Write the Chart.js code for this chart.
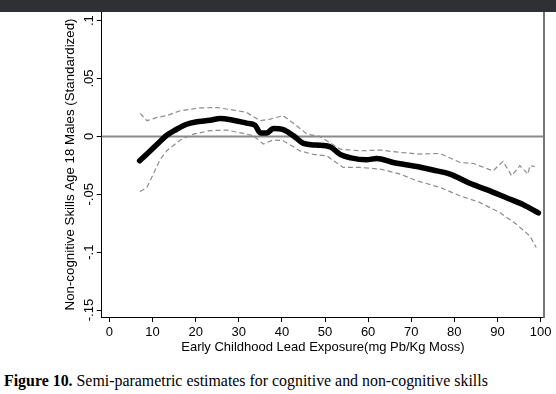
<!DOCTYPE html>
<html>
<head>
<meta charset="utf-8">
<script src="https://cdn.jsdelivr.net/npm/chart.js@4/dist/chart.umd.min.js"></script>
<style>
  body { margin: 0; background: #fff; width: 556px; height: 394px; overflow: hidden; position: relative; }
  #topbar { position: absolute; left: 0; top: 0; width: 556px; height: 12px; background: #2e3034; z-index: 2; }
  #wrap { position: absolute; left: 0; top: 0; width: 556px; height: 360px; }
  #caption { position: absolute; left: 4px; top: 372px; font-family: "Liberation Serif", "Times New Roman", serif; font-size: 15.9px; line-height: 18px; color: #000; white-space: nowrap; }
</style>
</head>
<body>
<div id="topbar"></div>
<div id="wrap"><canvas id="grafico"></canvas></div>
<div id="caption"><b>Figure 10.</b> Semi-parametric estimates for cognitive and non-cognitive skills</div>
<script>
// eixos
const xTicks = [0, 10, 20, 30, 40, 50, 60, 70, 80, 90, 100];
const yTicks = [-0.15, -0.1, -0.05, 0, 0.05, 0.1];
const yTickLabels = ["-.15", "-.1", "-.05", "0", ".05", ".1"];

// estimativa principal
const xMain = [7, 9, 11, 13.3, 15.5, 17.9, 20, 23.3, 25.7, 28.7, 31.8, 33.8, 35, 36.5, 38, 40.3, 42.7, 45, 48, 51.2, 53.5, 56, 59.6, 62, 65.8, 71.3, 75, 79, 83.6, 87.5, 92.1, 96, 99.5];
const yMain = [-0.021, -0.014, -0.007, 0.001, 0.006, 0.0105, 0.0125, 0.014, 0.0155, 0.014, 0.0115, 0.0095, 0.003, 0.003, 0.0068, 0.0058, 0.0005, -0.006, -0.0075, -0.009, -0.0155, -0.0185, -0.0202, -0.019, -0.0225, -0.026, -0.029, -0.0325, -0.0405, -0.046, -0.053, -0.059, -0.066];

// intervalo superior
const xUpper = [7.1, 8.7, 11, 13.3, 16.4, 21, 24.9, 28.7, 31.8, 34.9, 37.3, 40.3, 43.4, 45.8, 48.8, 53.5, 58.1, 62.8, 67.4, 72, 76.7, 81.3, 84.4, 89, 91.3, 93.3, 95.2, 97.1, 97.5, 98.7];
const yUpper = [0.0199, 0.0136, 0.0164, 0.018, 0.0222, 0.0246, 0.025, 0.0228, 0.0208, 0.0136, 0.015, 0.018, 0.0093, 0.002, 0.0, -0.011, -0.0124, -0.0118, -0.0138, -0.0152, -0.0147, -0.0225, -0.0234, -0.0297, -0.0216, -0.034, -0.0253, -0.0325, -0.0253, -0.026];

// intervalo inferior
const xLower = [7.1, 8.7, 11.8, 13.3, 16.4, 19.5, 23.3, 27.2, 31.1, 33.4, 35.7, 38, 40.3, 44.2, 47.3, 50.4, 54.2, 58.1, 62.8, 67.4, 71.3, 76.7, 81.3, 85.9, 90.5, 94.4, 97.5, 99];
const yLower = [-0.0476, -0.044, -0.0196, -0.0124, -0.0031, 0.002, 0.005, 0.0055, 0.0026, 0.0006, -0.0066, -0.003, -0.0037, -0.0125, -0.0155, -0.0167, -0.0268, -0.0268, -0.0282, -0.0325, -0.0383, -0.0441, -0.0513, -0.057, -0.0657, -0.0758, -0.0859, -0.096];

const pontos = (xs, ys) => xs.map((x, i) => ({ x: x, y: ys[i] }));

const fonte = "'Liberation Sans', Arial, sans-serif";

// linha zero, moldura e rótulos rotacionados do eixo Y
const estiloStata = {
  id: "estiloStata",
  beforeDatasetsDraw(chart) {
    const { ctx, chartArea, scales } = chart;
    const y0 = scales.y.getPixelForValue(0);
    ctx.save();
    ctx.strokeStyle = "#8a8a8a";
    ctx.lineWidth = 2;
    ctx.beginPath();
    ctx.moveTo(chartArea.left, y0);
    ctx.lineTo(chartArea.right, y0);
    ctx.stroke();
    ctx.restore();
  },
  afterDraw(chart) {
    const { ctx, chartArea, scales } = chart;
    ctx.save();
    ctx.strokeStyle = "#777";
    ctx.lineWidth = 2;
    ctx.beginPath();
    ctx.moveTo(chartArea.right, chartArea.top);
    ctx.lineTo(chartArea.right, chartArea.bottom + 1);
    ctx.stroke();

    ctx.fillStyle = "#000";
    ctx.font = "13px " + fonte;
    ctx.textAlign = "center";
    ctx.textBaseline = "middle";
    yTicks.forEach((v, i) => {
      const py = scales.y.getPixelForValue(v);
      ctx.save();
      ctx.translate(89, py);
      ctx.rotate(-Math.PI / 2);
      ctx.fillText(yTickLabels[i], 0, 0);
      ctx.restore();
    });
    ctx.restore();
  },
};

const ctx = document.getElementById("grafico").getContext("2d");
const myChart = new Chart(ctx, {
  type: "line",
  data: {
    datasets: [
      {
        label: "superior",
        data: pontos(xUpper, yUpper),
        borderColor: "#8c8c8c",
        borderWidth: 1.2,
        borderDash: [5, 3],
        pointRadius: 0,
        tension: 0,
      },
      {
        label: "inferior",
        data: pontos(xLower, yLower),
        borderColor: "#8c8c8c",
        borderWidth: 1.2,
        borderDash: [5, 3],
        pointRadius: 0,
        tension: 0,
      },
      {
        label: "estimativa",
        data: pontos(xMain, yMain),
        borderColor: "#000",
        borderWidth: 5.5,
        borderCapStyle: "round",
        borderJoinStyle: "round",
        pointRadius: 0,
        cubicInterpolationMode: "monotone",
      },
    ],
  },
  options: {
    responsive: true,
    maintainAspectRatio: false,
    animation: false,
    layout: { padding: { top: 12, right: 12, left: 0, bottom: 0 } },
    plugins: {
      legend: { display: false },
      tooltip: { enabled: false },
    },
    scales: {
      x: {
        type: "linear",
        min: -1.8,
        max: 100.8,
        afterBuildTicks: (scale) => {
          scale.ticks = xTicks.map((v) => ({ value: v }));
        },
        afterFit: (scale) => {
          scale.height = 43;
        },
        grid: { drawOnChartArea: false, drawTicks: true, tickLength: 5, tickColor: "#000" },
        border: { color: "#000", width: 1 },
        ticks: {
          color: "#000",
          padding: 3,
          maxRotation: 0,
          font: { family: fonte, size: 13 },
        },
        title: {
          display: true,
          text: "Early Childhood Lead Exposure(mg Pb/Kg Moss)",
          color: "#000",
          padding: { top: 0, bottom: 5 },
          font: { family: fonte, size: 13 },
        },
      },
      y: {
        type: "linear",
        min: -0.156,
        max: 0.1075,
        afterBuildTicks: (scale) => {
          scale.ticks = yTicks.map((v) => ({ value: v }));
        },
        afterFit: (scale) => {
          scale.width = 101.7;
        },
        grid: { drawOnChartArea: false, drawTicks: true, tickLength: 5, tickColor: "#000" },
        border: { color: "#000", width: 1 },
        ticks: { display: false },
        title: {
          display: true,
          text: "Non-cognitive Skills Age 18 Males (Standardized)",
          color: "#000",
          padding: { top: 62, bottom: 0 },
          font: { family: fonte, size: 13.3 },
        },
      },
    },
  },
  plugins: [estiloStata],
});
</script>
</body>
</html>
